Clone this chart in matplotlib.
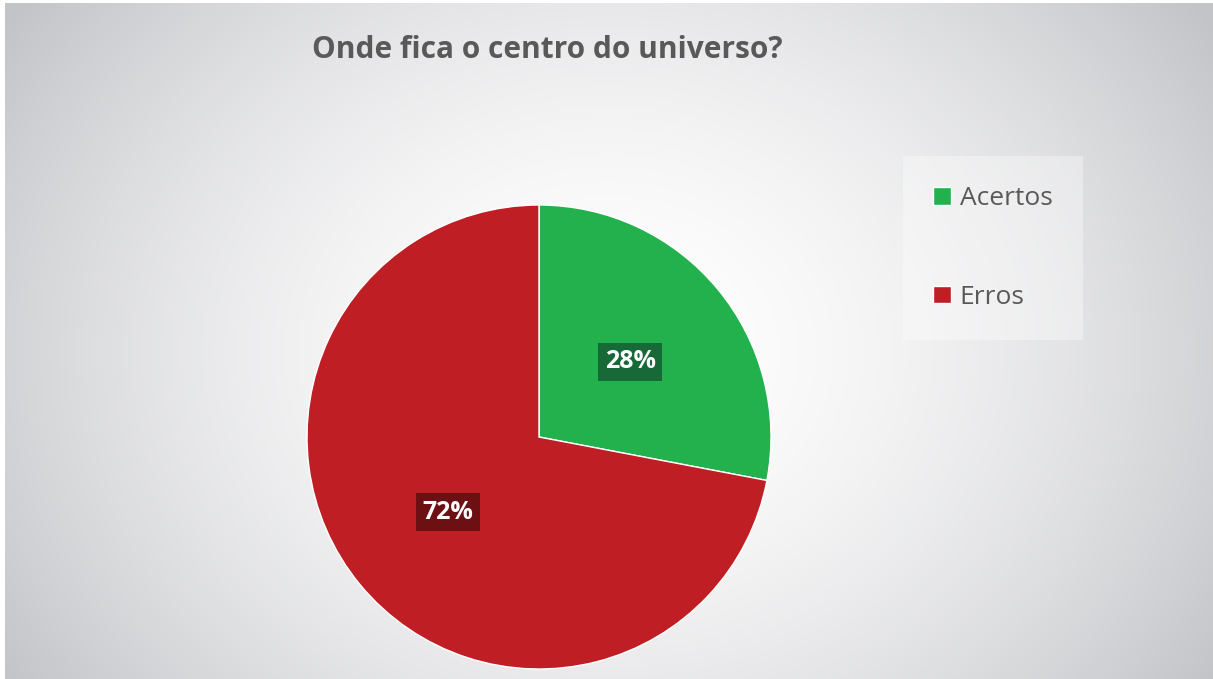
import matplotlib.pyplot as plt
import numpy as np

labels = ['Acertos', 'Erros']
values = [28, 72]
colors = ['#23b14d', '#be1e24']
box_colors = ['#176a37', '#6d1013']
title = 'Onde fica o centro do universo?'

W, H = 1213, 679
fig = plt.figure(figsize=(W / 100, H / 100), dpi=100)
fig.patch.set_facecolor('white')

# radial gradient background
bg = fig.add_axes([5 / W, 0, 1 - 5 / W, 1 - 3 / H])
bg.set_axis_off()
yy, xx = np.mgrid[0:H, 0:W]
d = np.sqrt(((xx - 606) / 728) ** 2 + ((yy - 350) / 600) ** 2)
t = np.clip(d, 0, 1) ** 1.7
white = np.array([1.0, 1.0, 1.0])
grey = np.array([195, 196, 200]) / 255
img = white * (1 - t[..., None]) + grey * t[..., None]
bg.imshow(img, aspect='auto', extent=[0, W, H, 0])

# pie
ax = fig.add_axes([307 / W, 10 / H, 464 / W, 464 / H])
wedges, _, autotexts = ax.pie(values, colors=colors, startangle=90, counterclock=False,
                              autopct='%1.0f%%', pctdistance=0.51, radius=1,
                              wedgeprops={'linewidth': 1, 'edgecolor': 'white'})
for txt, bc in zip(autotexts, box_colors):
    txt.set_color('white')
    txt.set_fontsize(18)
    txt.set_fontweight('bold')
    txt.set_fontfamily('Open Sans')
    txt.set_bbox(dict(boxstyle='square,pad=0.26', facecolor=bc, edgecolor='none'))
ax.set_xlim(-1, 1)
ax.set_ylim(-1, 1)
ax.set_aspect('equal')

fig.text(547 / W, 1 - 50 / H, title, ha='center', va='center', fontsize=21.5,
         fontweight='bold', color='#595959', family='Open Sans')

leg = fig.legend(wedges, labels, loc='center', bbox_to_anchor=(993 / W, 1 - 248 / H),
                 frameon=True, fancybox=False, labelspacing=2.8,
                 handlelength=0.65, handleheight=0.65, handletextpad=0.35,
                 borderpad=1.15, prop={'family': 'Open Sans', 'size': 19})
leg.get_frame().set_facecolor('white')
leg.get_frame().set_alpha(0.35)
leg.get_frame().set_edgecolor('none')
for t_ in leg.get_texts():
    t_.set_color('#595959')

fig.savefig('out.png', dpi=100)
